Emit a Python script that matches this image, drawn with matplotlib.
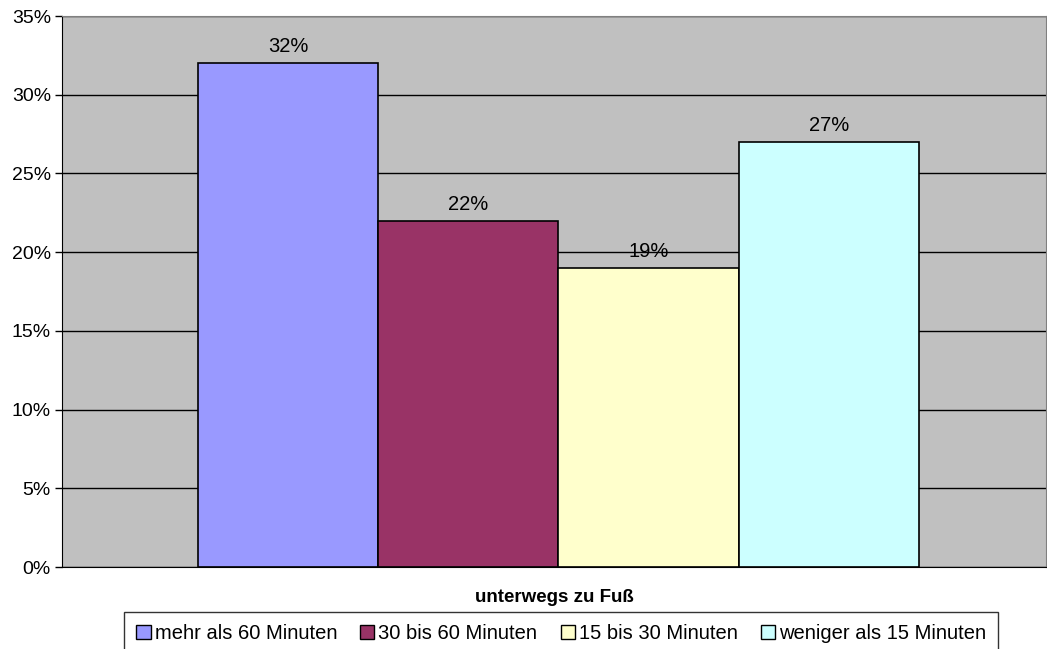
import matplotlib.pyplot as plt
from matplotlib.patches import Patch
from matplotlib.ticker import PercentFormatter

plt.rcParams['font.family'] = ['Liberation Sans', 'DejaVu Sans']

# Data
categories = ['mehr als 60 Minuten', '30 bis 60 Minuten', '15 bis 30 Minuten', 'weniger als 15 Minuten']
values = [32, 22, 19, 27]
colors = ['#9999FF', '#993366', '#FFFFCC', '#CCFFFF']
yticks = [0, 5, 10, 15, 20, 25, 30, 35]
xlabel = 'unterwegs zu Fuß'

fig = plt.figure(figsize=(10.47, 6.49), dpi=100)
ax = fig.add_axes([0.0592, 0.1263, 0.9398, 0.849])
ax.set_facecolor('#C0C0C0')

# grid lines behind bars
ax.set_axisbelow(True)
ax.yaxis.grid(True, color='black', linewidth=1)

xs = range(len(values))
bars = ax.bar(xs, values, width=1.0, color=colors, edgecolor='black', linewidth=1.2)

for x, v in zip(xs, values):
    ax.text(x, v + 0.45, f'{v}%', ha='center', va='bottom', fontsize=14.5)

ax.set_xlim(-1.254, 4.204)
ax.set_ylim(0, 35)
ax.set_yticks(yticks)
ax.yaxis.set_major_formatter(PercentFormatter(decimals=0))
ax.tick_params(axis='y', labelsize=14, direction='out', length=5, width=1, pad=3)
ax.set_xticks([])

ax.spines['left'].set_color('black')
ax.spines['bottom'].set_color('black')
ax.spines['top'].set_color('#808080')
ax.spines['right'].set_color('#808080')

ax.set_xlabel(xlabel, fontsize=13.5, fontweight='bold', labelpad=16)

handles = [Patch(facecolor=c, edgecolor='black', linewidth=1) for c in colors]
leg = fig.legend(handles, categories, loc='upper center', bbox_to_anchor=(0.536, 0.057),
                 ncol=4, fontsize=14.5, frameon=True, fancybox=False,
                 handlelength=0.7, handleheight=0.7, handletextpad=0.2,
                 columnspacing=1.15, borderpad=0.62, borderaxespad=0)
leg.get_frame().set_edgecolor('black')
leg.get_frame().set_linewidth(1)

fig.savefig('out.png', dpi=100)
